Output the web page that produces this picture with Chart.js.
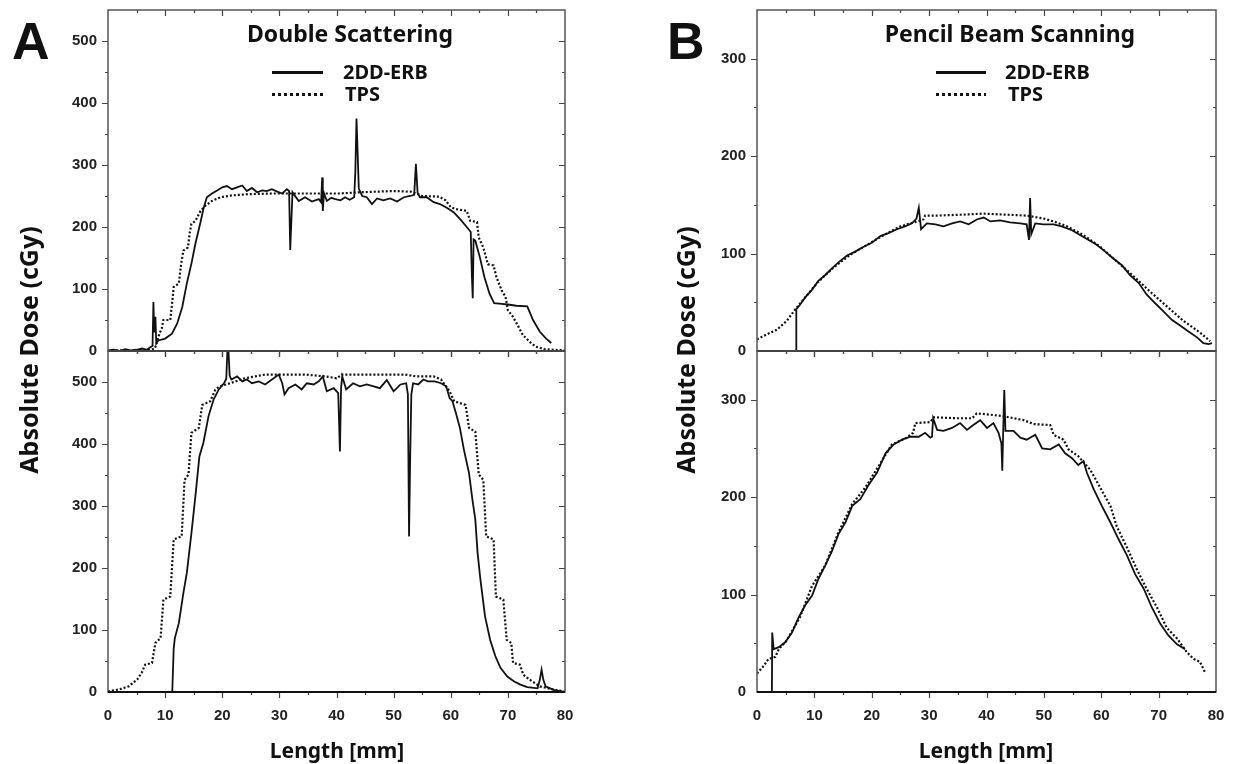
<!DOCTYPE html>
<html>
<head>
<meta charset="utf-8">
<script src="https://cdn.jsdelivr.net/npm/chart.js@4.4.1/dist/chart.umd.min.js"></script>
<style>
  html, body { margin: 0; padding: 0; background: #fff; }
  #wrap { position: relative; width: 1236px; height: 764px; overflow: hidden; background: #fff; }
  #wrap canvas { position: absolute; left: 0; top: 0; }
  .txt { position: absolute; font-family: 'Noto Sans', 'Liberation Sans', sans-serif; font-weight: bold; color: #111; white-space: nowrap; }
  .big { font-family: 'Liberation Sans', Arial, sans-serif; font-size: 52px; line-height: 52px; }
  .ytitle { width: 300px; height: 30px; line-height: 30px; text-align: center; font-size: 25px; transform: rotate(-90deg); }
  .xtitle { width: 300px; text-align: center; font-size: 21px; line-height: 26px; }
  .ttl { width: 340px; text-align: center; font-size: 23px; line-height: 28px; }
  .leg { font-size: 20px; line-height: 22px; }
  .solid { position: absolute; height: 3px; background: #111; }
  .dots { position: absolute; height: 3px; background: repeating-linear-gradient(90deg, #111 0 3px, transparent 3px 6px); }
</style>
</head>
<body>
<div id="wrap">
  <canvas id="aTop" width="1236" height="764"></canvas>
  <canvas id="aBot" width="1236" height="764"></canvas>
  <canvas id="bTop" width="1236" height="764"></canvas>
  <canvas id="bBot" width="1236" height="764"></canvas>

  <div class="txt big" style="left:12px; top:15px;">A</div>
  <div class="txt big" style="left:667px; top:15px;">B</div>

  <div class="txt ytitle" style="left:-122px; top:335px;">Absolute Dose (cGy)</div>
  <div class="txt ytitle" style="left:535px; top:335px;">Absolute Dose (cGy)</div>

  <div class="txt xtitle" style="left:187px; top:737px;">Length [mm]</div>
  <div class="txt xtitle" style="left:836px; top:737px;">Length [mm]</div>

  <div class="txt ttl" style="left:180px; top:19px;">Double Scattering</div>
  <div class="solid" style="left:272px; top:71px; width:51px;"></div>
  <div class="txt leg" style="left:343px; top:61px;">2DD-ERB</div>
  <div class="dots" style="left:272px; top:93px; width:51px;"></div>
  <div class="txt leg" style="left:345px; top:83px;">TPS</div>

  <div class="txt ttl" style="left:840px; top:19px;">Pencil Beam Scanning</div>
  <div class="solid" style="left:936px; top:71px; width:50px;"></div>
  <div class="txt leg" style="left:1005px; top:61px;">2DD-ERB</div>
  <div class="dots" style="left:936px; top:93px; width:50px;"></div>
  <div class="txt leg" style="left:1008px; top:83px;">TPS</div>
</div>

<script>
// [length mm, dose cGy]
const aTopErb = [[0,1],[1,2],[2,0],[3,3],[4,1],[5,2],[6,4],[6.8,2],[7.4,6],[7.8,8],[7.95,79],[8.1,30],[8.3,55],[8.45,12],[8.8,17],[10,20],[11.2,28],[12.1,44],[13,71],[13.8,109],[14.6,141],[15.3,173],[16.2,208],[16.7,229],[17.3,248],[18.2,254],[19.1,259],[20,264],[20.8,266],[21.7,261],[22.6,264],[23.5,267],[24.3,258],[25.2,263],[26.1,256],[27,259],[27.8,258],[28.7,261],[29.6,257],[30.5,254],[31.3,261],[31.7,258],[31.9,163],[32.1,210],[32.3,256],[32.5,253],[33.4,242],[34.5,248],[35.7,241],[36.9,245],[37.3,240],[37.5,280],[37.6,226],[37.8,255],[38.3,242],[39.1,247],[39.8,245],[40.7,243],[41.5,248],[42.3,244],[43.1,248],[43.3,290],[43.5,375],[43.7,320],[43.9,262],[44.5,250],[45.3,248],[46.2,237],[47.1,246],[48.2,243],[49.4,246],[50.6,241],[51.8,248],[52.9,250],[53.6,252],[53.9,302],[54.2,255],[54.6,248],[55.8,248],[57,240],[58.1,237],[59.3,231],[60.5,224],[61.6,213],[62.8,200],[63.5,192],[63.7,120],[63.85,85],[64,180],[64.3,178],[65.1,151],[65.9,119],[66.8,92],[67.6,77],[68.9,76],[70,75],[71.5,73],[73.4,72],[74.4,50],[75.6,31],[76.7,20],[77.6,13]];
const aTopTps = [[0,0],[2,1],[4,0],[6,1],[7.5,2],[8.2,4],[8.6,15],[9,28],[9.4,36],[9.7,50],[10.9,50],[11.2,75],[11.5,103],[12.4,109],[12.8,140],[13.2,162],[14,167],[14.3,190],[14.6,205],[15.3,210],[16.2,226],[17,234],[18.2,242],[19.7,248],[21.7,251],[24.6,253],[28.7,254],[34.5,254],[40.4,254],[44,256],[47,257],[50,258],[53,257],[54.3,253],[55,250],[58,249],[59.1,243],[60,232],[60.8,229],[62.8,226],[63.4,210],[64.6,208],[64.9,183],[65.7,167],[66.5,140],[67.5,138],[68,119],[68.9,98],[69.6,87],[70,66],[70.9,55],[71.7,42],[72.6,26],[73.8,15],[74.9,7],[76.4,3],[78,2],[80,1]];

const aBotErb = [[11.25,0],[11.5,70],[11.7,87],[12.4,111],[13.2,160],[13.8,192],[14.6,256],[15.3,316],[16,380],[16.7,402],[17.6,445],[18.5,472],[19.4,488],[20.3,498],[20.7,505],[20.9,550],[21.1,548],[21.3,510],[21.6,504],[22.6,509],[23.5,501],[24.3,504],[25.2,498],[26.4,501],[27.5,496],[28.7,504],[29.9,512],[30.5,498],[30.9,480],[31.6,490],[32.8,496],[33.9,488],[34.8,498],[36,496],[36.9,501],[37.6,509],[38.3,485],[39.5,490],[40.3,482],[40.5,420],[40.6,388],[40.8,490],[41,509],[41.7,488],[42.9,498],[44.1,493],[45.3,496],[46.5,493],[47.6,490],[48.8,503],[50,485],[51.2,496],[52.2,498],[52.5,480],[52.7,251],[52.9,380],[53.1,480],[53.4,498],[54.3,496],[55.2,504],[56,501],[57.2,501],[58.3,498],[59.2,493],[59.8,474],[60.3,469],[60.9,450],[61.6,426],[62.3,391],[63.2,353],[63.8,310],[64.3,278],[64.7,224],[65.2,181],[66,122],[66.9,84],[67.8,58],[68.7,39],[69.9,25],[71.1,17],[72.2,12],[73.4,8],[75.2,6],[75.6,20],[75.9,36],[76.2,20],[76.6,9],[78.1,3],[79.8,0]];
const aBotTps = [[0,1],[1.9,4],[3.6,9],[5.1,20],[5.9,31],[6.5,44],[7.7,47],[8.3,79],[9.2,87],[9.7,149],[10.9,154],[11.5,246],[12.9,251],[13.4,342],[14.1,351],[14.6,418],[15.9,426],[16.5,463],[17.9,469],[18.8,488],[19.6,493],[21.7,499],[24,506],[27.5,512],[34.5,512],[38.1,509],[40,506],[41,512],[52,512],[54,509],[57,509],[58.3,504],[59.8,485],[60.6,469],[62.6,463],[63.2,426],[64.3,420],[64.9,351],[65.7,342],[66.2,251],[67.5,246],[67.9,154],[69.2,149],[69.8,84],[70.6,79],[70.9,47],[72.1,44],[72.7,28],[73.8,20],[75.6,9],[78,4],[79.8,1]];

const bTopErb = [[6.8,0],[6.85,43],[7.3,46],[8.4,55],[9.6,63],[10.7,72],[11.9,78],[13.1,85],[14.2,91],[15.7,98],[17.1,102],[18.6,107],[20,111],[21.5,118],[22.9,121],[24.4,125],[25.8,128],[27,131],[27.8,136],[28.2,147],[28.6,125],[29.6,131],[31.1,130],[32.5,128],[34,131],[35.4,133],[36.9,130],[38.3,135],[39.5,137],[40.7,133],[42.4,134],[44.1,132],[45.9,131],[47,130],[47.4,114],[47.6,157],[47.8,120],[48.5,131],[49.9,130],[51.7,130],[53.1,128],[54.9,124],[56.3,119],[57.8,114],[59.2,109],[60.7,102],[62.1,95],[63.6,88],[65,78],[66.5,70],[67.9,58],[69.4,49],[70.8,41],[72.3,32],[73.8,26],[75.2,20],[76.7,14],[77.8,8],[78.7,7],[79.3,8]];
const bTopTps = [[0,12],[1.7,17],[3.5,22],[5.2,31],[6.7,43],[8.4,55],[10.5,70],[13.4,86],[16.3,99],[19.2,109],[22.1,119],[25,128],[27.9,133],[29,135],[29.3,139],[31.4,139],[36,140],[39.5,141],[43,140],[47,139],[49.9,136],[51.7,133],[54,128],[56.9,119],[59.8,107],[62.7,92],[65.6,77],[68.5,61],[71.4,46],[74.3,31],[77.2,19],[79,10]];

const bBotErb = [[2.6,0],[2.65,61],[2.9,44],[3.8,46],[4.9,51],[6.1,61],[7.3,77],[8.4,89],[9.6,99],[10.7,116],[11.9,130],[13.1,145],[14.2,162],[15.4,174],[16.6,191],[18,198],[19.5,213],[20.9,225],[22.4,245],[23.8,254],[25.3,259],[26.7,262],[28.2,262],[29.3,266],[30.2,261],[30.5,262],[30.7,281],[31.4,269],[32.5,268],[34,271],[35.4,276],[36.6,269],[37.7,274],[38.9,279],[40.1,271],[41.2,276],[42.1,266],[42.6,255],[42.75,227],[43,290],[43.1,310],[43.3,268],[44.7,268],[45.9,261],[47,259],[48.5,264],[49.7,250],[51.1,249],[52.6,254],[53.7,245],[54.9,240],[56,233],[56.9,237],[57.5,225],[58.7,208],[60.1,191],[61.6,174],[63,157],[64.5,140],[65.9,121],[67.4,106],[68.8,87],[70.3,70],[71.7,58],[73.2,49],[74.6,44]];
const bBotTps = [[0,19],[1.2,27],[2,34],[3.2,36],[3.8,44],[5.2,53],[7.5,77],[9.6,109],[11.9,130],[14.2,164],[16.6,193],[18.9,210],[21.2,232],[23.5,254],[26.1,261],[27.2,266],[27.6,276],[30.2,277],[30.8,282],[34.8,281],[37.5,281],[38.3,286],[40.1,285],[43,283],[46.5,279],[48.2,275],[51.1,274],[51.7,264],[53.4,259],[54.3,249],[56,242],[58.1,228],[59.8,210],[61.6,191],[62.7,170],[64.5,148],[66.2,126],[67.9,106],[69.7,87],[71.4,66],[73.2,55],[74.9,41],[76.1,34],[77.2,31],[78.1,20]];

const xTicks = [0, 10, 20, 30, 40, 50, 60, 70, 80];

Chart.defaults.font.family = "'Liberation Sans', Arial, sans-serif";

// box frame with outward ticks left/bottom and inward ticks top/right
const frame = {
  id: 'frame',
  afterDatasetsDraw(chart) {
    const { ctx, chartArea: a, scales: { x, y } } = chart;
    ctx.save();
    ctx.strokeStyle = '#444';
    ctx.lineWidth = 1.2;
    for (let v = 5; v < 80; v += 5) {
      const px = Math.round(x.getPixelForValue(v)) + 0.5;
      const len = v % 10 === 0 ? 6 : 3;
      ctx.beginPath();
      ctx.moveTo(px, a.bottom); ctx.lineTo(px, a.bottom + len);
      ctx.moveTo(px, a.top); ctx.lineTo(px, a.top + len);
      ctx.stroke();
    }
    for (let v = 50; v < y.max; v += 50) {
      const py = Math.round(y.getPixelForValue(v)) + 0.5;
      const len = v % 100 === 0 ? 6 : 3;
      ctx.beginPath();
      ctx.moveTo(a.left, py); ctx.lineTo(a.left - len, py);
      ctx.moveTo(a.right, py); ctx.lineTo(a.right - len, py);
      ctx.stroke();
    }
    ctx.lineWidth = 1.5;
    ctx.strokeStyle = '#555';
    ctx.strokeRect(a.left, a.top, a.right - a.left, a.bottom - a.top);
    ctx.strokeStyle = '#111';
    ctx.lineWidth = 2;
    ctx.beginPath();
    ctx.moveTo(a.left, a.bottom); ctx.lineTo(a.right, a.bottom);
    ctx.stroke();
    ctx.restore();
  }
};

function panel(id, erb, tps, yMax, box, showX) {
  const yW = 50;
  const xH = showX ? 40 : 0;
  const tickFont = { size: 15, weight: 'bold' };
  new Chart(document.getElementById(id), {
    type: 'line',
    data: {
      datasets: [
        { label: '2DD-ERB', data: erb.map(p => ({ x: p[0], y: p[1] })), borderColor: '#111', borderWidth: 1.8, pointRadius: 0, tension: 0 },
        { label: 'TPS', data: tps.map(p => ({ x: p[0], y: p[1] })), borderColor: '#111', borderWidth: 2.2, borderDash: [2, 2], pointRadius: 0, tension: 0 }
      ]
    },
    options: {
      responsive: false,
      animation: false,
      events: [],
      layout: { padding: { left: box.l - yW, right: 1236 - box.r, top: box.t, bottom: 764 - box.b - xH } },
      plugins: { legend: { display: false }, tooltip: { enabled: false } },
      scales: {
        x: {
          type: 'linear', min: 0, max: 80, clip: false,
          grid: { display: false, drawTicks: false }, border: { display: false },
          ticks: { display: showX, padding: 15, color: '#222', font: tickFont, maxRotation: 0, autoSkip: false },
          afterBuildTicks: s => { s.ticks = xTicks.map(v => ({ value: v })); },
          afterFit: s => { s.height = xH; s.paddingLeft = 0; s.paddingRight = 0; }
        },
        y: {
          type: 'linear', min: 0, max: yMax, clip: false,
          grid: { display: false, drawTicks: false }, border: { display: false },
          ticks: { stepSize: 100, padding: 11, color: '#222', font: tickFont },
          afterBuildTicks: s => { s.ticks = s.ticks.filter(t => t.value % 100 === 0); },
          afterFit: s => { s.width = yW; s.paddingTop = 0; s.paddingBottom = 0; }
        }
      }
    },
    plugins: [frame]
  });
}

panel('aTop', aTopErb, aTopTps, 550, { l: 108, r: 565, t: 10, b: 351 }, false);
panel('aBot', aBotErb, aBotTps, 550, { l: 108, r: 565, t: 351, b: 692 }, true);
panel('bTop', bTopErb, bTopTps, 350, { l: 757, r: 1216, t: 10, b: 351 }, false);
panel('bBot', bBotErb, bBotTps, 350, { l: 757, r: 1216, t: 351, b: 692 }, true);
</script>
</body>
</html>
